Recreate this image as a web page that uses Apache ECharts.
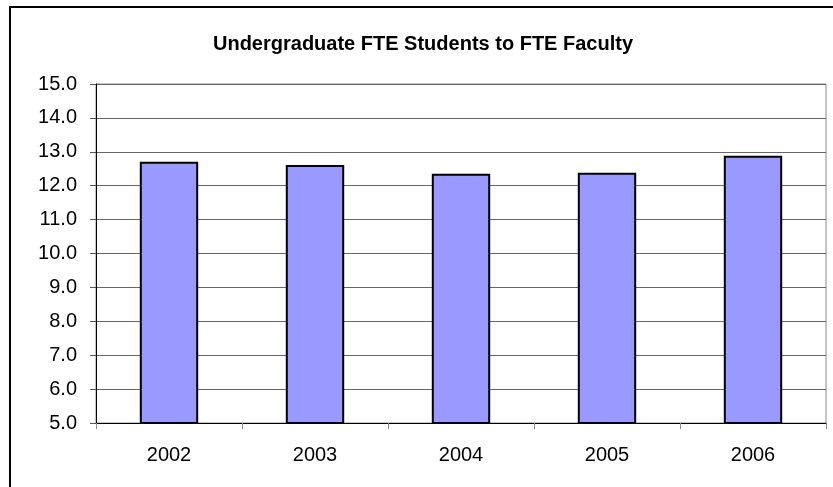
<!DOCTYPE html>
<html>
<head>
<meta charset="utf-8">
<script src="https://cdn.jsdelivr.net/npm/echarts@6/dist/echarts.min.js"></script>
<style>
  html, body { margin: 0; padding: 0; background: #fff; }
  #chart { width: 833px; height: 487px; }
</style>
</head>
<body>
<div id="chart"></div>
<script>
// data
const years = ['2002', '2003', '2004', '2005', '2006'];
const ratio = [12.71, 12.61, 12.35, 12.38, 12.88];

const font = '"Liberation Sans", Arial, sans-serif';

const chart = echarts.init(document.getElementById('chart'), null, { renderer: 'canvas' });

chart.setOption({
  animation: false,
  backgroundColor: '#fff',
  title: {
    text: 'Undergraduate FTE Students to FTE Faculty',
    left: 418,
    textAlign: 'center',
    top: 29,
    textStyle: { fontFamily: font, fontSize: 20, fontWeight: 'bold', color: '#000' }
  },
  // outer chart frame
  graphic: [{
    type: 'rect',
    shape: { x: 10, y: 7, width: 840, height: 500 },
    style: { fill: 'none', stroke: '#000', lineWidth: 2 },
    silent: true
  }],
  grid: {
    left: 96, right: 7, top: 84, bottom: 64,
    show: true, borderColor: '#888', borderWidth: 1
  },
  xAxis: {
    type: 'category',
    data: years,
    axisLine: { lineStyle: { color: '#000', width: 1 } },
    axisTick: { show: true, length: 6, lineStyle: { color: '#888' } },
    axisLabel: { fontFamily: font, fontSize: 20, color: '#000', margin: 22 }
  },
  yAxis: {
    type: 'value',
    min: 5, max: 15, interval: 1,
    axisLine: { show: true, lineStyle: { color: '#000', width: 1 } },
    axisTick: { show: true, length: 6, lineStyle: { color: '#555' } },
    axisLabel: {
      fontFamily: font, fontSize: 20, color: '#000', margin: 19,
      formatter: v => v.toFixed(1)
    },
    splitLine: { show: true, lineStyle: { color: '#666', width: 1 } }
  },
  series: [{
    type: 'bar',
    data: ratio,
    barWidth: '40%',
    itemStyle: { color: '#9999FF', borderColor: '#000', borderWidth: 2 }
  }]
});
</script>
</body>
</html>
